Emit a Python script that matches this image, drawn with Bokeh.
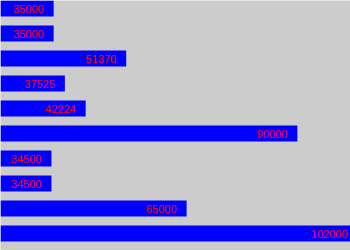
from bokeh.plotting import figure
from bokeh.models import Range1d, ColumnDataSource
from bokeh.core.properties import value
from bokeh.embed import file_html
from bokeh.resources import INLINE

values = [35000, 35000, 51370, 37525, 42224, 90000, 34500, 34500, 65000, 102000]
labels = [str(v) for v in values]
rows = list(range(len(values)))

x_start = min(values) * 2 / 3
x_end = max(values)
offsets = [-3 if v == max(values) else -10 for v in values]

src = ColumnDataSource(dict(y=rows, v=values, lab=labels, off=offsets))

p = figure(width=350, height=250, output_backend="svg", toolbar_location=None,
           x_range=Range1d(x_start, x_end), y_range=Range1d(len(values) - 0.32, -0.32),
           min_border=0, min_border_left=0, min_border_right=0, min_border_top=0, min_border_bottom=0)
p.axis.visible = False
p.grid.visible = False
p.outline_line_color = None
p.background_fill_color = "#cccccc"
p.border_fill_color = "#cccccc"

p.hbar(y="y", left=0, right="v", height=0.64, source=src,
       fill_color="#0000ff", line_color=None)
p.text(x="v", y="y", text="lab", source=src, x_offset="off",
       text_align="right", text_baseline="middle", text_color="#ff0000",
       text_font=value("Liberation Sans"), text_font_size="11px")

open("out.html", "w").write(file_html(p, INLINE))
